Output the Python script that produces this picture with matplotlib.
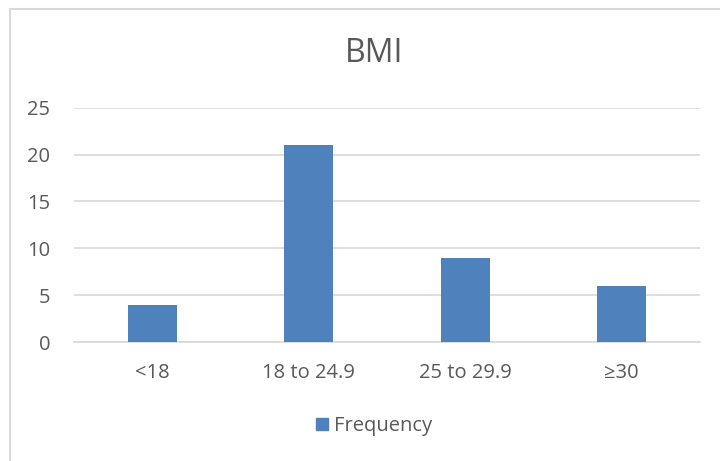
import matplotlib.pyplot as plt
from matplotlib.patches import Rectangle, Patch
import numpy as np

# Data
categories = ['<18', '18 to 24.9', '25 to 29.9', '≥30']
frequency = [4, 21, 9, 6]
y_ticks = [0, 5, 10, 15, 20, 25]

bar_color = '#4f81bd'
text_color = '#595959'
grid_color = '#d9d9d9'

plt.rcParams['font.family'] = ['Open Sans', 'DejaVu Sans']

fig = plt.figure(figsize=(7.2, 4.61), dpi=100)

# outer chart border (Excel style)
fig.patches.append(Rectangle((9.5 / 720, -0.05), 1.0, 1 - 9.5 / 461 + 0.05,
                             transform=fig.transFigure, fill=False,
                             edgecolor=grid_color, linewidth=1.5))

ax = fig.add_axes([74 / 720, 1 - 342 / 461, 626 / 720, (342 - 107.7) / 461])

x = np.arange(len(categories))
ax.bar(x, frequency, width=0.31, color=bar_color, zorder=3, label='Frequency')

ax.set_xlim(-0.5, len(categories) - 0.5)
ax.set_ylim(0, 25)
ax.set_yticks(y_ticks)
ax.set_xticks(x)
ax.set_xticklabels(categories)
ax.grid(axis='y', color=grid_color, linewidth=1.2, zorder=0)
ax.tick_params(length=0, labelsize=14.5, colors=text_color)
ax.tick_params(axis='x', pad=15)
ax.tick_params(axis='y', pad=17)
for side in ['top', 'right', 'left']:
    ax.spines[side].set_visible(False)
ax.spines['bottom'].set_color(grid_color)
ax.spines['bottom'].set_linewidth(1.2)

fig.text(0.52, 1 - 54 / 461, 'BMI', ha='center', va='center',
         fontsize=23, color=text_color)

fig.legend(handles=[Patch(color=bar_color, label='Frequency')],
           loc='center', bbox_to_anchor=(0.52, 1 - 426 / 461), frameon=False,
           fontsize=14.5, labelcolor=text_color, handlelength=0.6,
           handleheight=0.6, handletextpad=0.3)

plt.savefig('out.png', dpi=100)
